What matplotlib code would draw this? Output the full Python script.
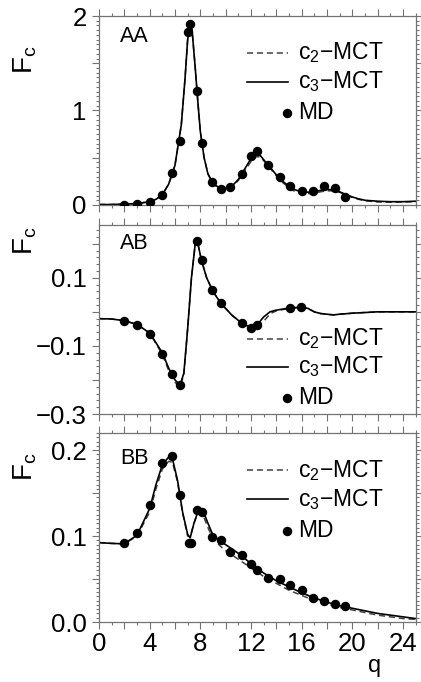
import numpy as np
import matplotlib
matplotlib.use('Agg')
import matplotlib.pyplot as plt
from matplotlib.ticker import MultipleLocator, FixedLocator, FixedFormatter

plt.rcParams['font.family'] = ['Liberation Sans', 'DejaVu Sans']
plt.rcParams['axes.unicode_minus'] = True

# ---- AA panel ----
aa_md_q = [2.0, 3.0, 4.0, 5.0, 5.77, 6.41, 7.01, 7.2, 7.73, 8.1, 8.9, 9.6, 10.36,
           11.3, 12.0, 12.5, 13.37, 14.27, 15.1, 16.0, 16.9, 17.75, 18.67, 19.4]
aa_md_f = [0.005, 0.014, 0.03, 0.106, 0.34, 0.674, 1.827, 1.915, 1.21, 0.653, 0.247,
           0.169, 0.187, 0.325, 0.52, 0.571, 0.423, 0.296, 0.204, 0.148, 0.148,
           0.197, 0.183, 0.081]
aa_q = [0, 1, 2, 3, 4, 4.5, 5, 5.5, 6, 6.5, 6.8, 7.0, 7.2, 7.35, 7.6, 7.8, 8.0, 8.3,
        8.6, 9.0, 9.5, 10, 10.5, 11, 11.5, 12, 12.4, 12.7, 13, 13.5, 14, 14.5, 15,
        15.5, 16, 16.5, 17, 17.5, 18, 18.5, 19, 19.5, 20, 20.5, 21, 22, 23, 24, 25]
aa_c3 = [0.005, 0.005, 0.01, 0.015, 0.035, 0.06, 0.11, 0.22, 0.42, 0.85, 1.35, 1.75,
         1.9, 1.85, 1.45, 1.1, 0.78, 0.5, 0.33, 0.23, 0.18, 0.175, 0.2, 0.27, 0.38,
         0.49, 0.54, 0.53, 0.48, 0.40, 0.32, 0.25, 0.2, 0.16, 0.14, 0.135, 0.14,
         0.155, 0.165, 0.16, 0.14, 0.11, 0.085, 0.065, 0.05, 0.04, 0.035, 0.035, 0.04]
aa_c2 = [0.005, 0.005, 0.01, 0.015, 0.035, 0.06, 0.11, 0.22, 0.42, 0.85, 1.35, 1.75,
         1.9, 1.85, 1.45, 1.1, 0.78, 0.5, 0.33, 0.22, 0.17, 0.17, 0.19, 0.26, 0.36,
         0.46, 0.51, 0.51, 0.47, 0.39, 0.31, 0.24, 0.18, 0.14, 0.125, 0.12, 0.125,
         0.14, 0.15, 0.15, 0.135, 0.11, 0.08, 0.06, 0.045, 0.032, 0.03, 0.032, 0.035]

# ---- AB panel ----
ab_md_q = [2.0, 3.0, 4.0, 5.0, 5.75, 6.41, 7.73, 8.1, 8.9, 9.6, 11.3, 12.0, 12.5,
           15.06, 15.98]
ab_md_f = [-0.028, -0.040, -0.064, -0.124, -0.183, -0.215, 0.208, 0.152, 0.063,
           0.026, -0.033, -0.046, -0.038, 0.011, 0.014]
ab_q = [0, 1, 2, 3, 4, 5, 5.5, 6, 6.4, 6.7, 7.0, 7.3, 7.6, 7.75, 8.1, 8.5, 9, 9.6,
        10, 10.5, 11, 11.5, 12, 12.5, 13, 13.5, 14, 15, 16, 16.5, 17, 17.5, 18.5,
        19, 20, 21, 22, 23, 24, 25]
ab_c3 = [-0.020, -0.021, -0.026, -0.037, -0.062, -0.12, -0.165, -0.2, -0.215, -0.18,
         -0.05, 0.1, 0.2, 0.21, 0.15, 0.1, 0.06, 0.026, 0.01, -0.01, -0.025, -0.038,
         -0.045, -0.038, -0.015, 0.0, 0.005, 0.011, 0.014, 0.01, 0.0, -0.005,
         -0.009, -0.007, -0.004, -0.002, 0.0, 0.0, 0.0, 0.0]
ab_c2 = [-0.020, -0.021, -0.026, -0.037, -0.062, -0.125, -0.172, -0.207, -0.22,
         -0.185, -0.05, 0.1, 0.2, 0.21, 0.15, 0.1, 0.06, 0.026, 0.01, -0.01, -0.025,
         -0.038, -0.045, -0.043, -0.028, -0.006, 0.003, 0.010, 0.013, 0.01, 0.0,
         -0.005, -0.009, -0.007, -0.004, -0.002, 0.0, 0.0, 0.0, 0.0]

# ---- BB panel ----
bb_md_q = [2.0, 3.0, 4.0, 5.0, 5.75, 6.41, 7.14, 7.28, 7.73, 8.1, 8.9, 9.6, 10.36,
           11.3, 12.0, 12.5, 13.37, 14.27, 15.1, 16.0, 16.9, 17.75, 18.67, 19.4]
bb_md_f = [0.0924, 0.104, 0.1366, 0.185, 0.1937, 0.148, 0.0916, 0.0916, 0.130,
           0.128, 0.099, 0.0955, 0.082, 0.0777, 0.068, 0.061, 0.0512, 0.0497,
           0.043, 0.0369, 0.028, 0.024, 0.0213, 0.019]
bb_q = [0, 1, 2, 3, 4, 4.5, 5, 5.5, 5.8, 6.2, 6.6, 7.0, 7.2, 7.5, 7.8, 8.2, 8.6,
        9.0, 9.6, 10, 11, 12, 13, 14, 15, 16, 17, 18, 19, 20, 21, 22, 23, 24, 25]
bb_c3 = [0.0924, 0.0915, 0.091, 0.101, 0.132, 0.16, 0.183, 0.192, 0.19, 0.165,
         0.128, 0.102, 0.098, 0.115, 0.128, 0.13, 0.115, 0.101, 0.094, 0.09, 0.08,
         0.068, 0.057, 0.048, 0.041, 0.034, 0.028, 0.023, 0.019, 0.016, 0.013,
         0.01, 0.008, 0.006, 0.004]
bb_c2 = [0.0924, 0.0915, 0.091, 0.100, 0.128, 0.155, 0.178, 0.187, 0.186, 0.163,
         0.127, 0.10, 0.099, 0.115, 0.127, 0.125, 0.11, 0.097, 0.088, 0.083, 0.073,
         0.063, 0.053, 0.045, 0.037, 0.031, 0.025, 0.021, 0.017, 0.014, 0.011,
         0.008, 0.006, 0.004, 0.003]

panels = [
    ('AA', aa_q, aa_c2, aa_c3, aa_md_q, aa_md_f),
    ('AB', ab_q, ab_c2, ab_c3, ab_md_q, ab_md_f),
    ('BB', bb_q, bb_c2, bb_c3, bb_md_q, bb_md_f),
]

fig = plt.figure(figsize=(4.21, 6.82), dpi=100)
left, width = 99 / 421, 316.6 / 421
tops = [16, 225, 433]
h = 189
frame = '0.45'

# y-axis settings per panel: limits, major, minor, labelled ticks, label texts
ylims = [(0, 2), (-0.3, 0.255), (0, 0.22)]
ymajor = [0.5, 0.1, 0.05]
yminor = [0.05, 0.02, 0.005]
ylabel_ticks = [[0, 1, 2], [-0.3, -0.1, 0.1], [0.0, 0.1, 0.2]]
ylabel_text = [['0', '1', '2'], ['\u22120.3', '\u22120.1', '0.1'], ['0.0', '0.1', '0.2']]
legend_y = [[0.804, 0.651, 0.487], [0.399, 0.25, 0.085], [0.803, 0.649, 0.484]]
tag_y = [0.89, 0.90, 0.867]
flabel_y = [60, 241, 467]

for i, (tag, q, c2, c3, mq, mf) in enumerate(panels):
    ax = fig.add_axes([left, 1 - (tops[i] + h) / 682, width, h / 682])
    ax.plot(q, c2, color='0.25', lw=1.1, dashes=(4, 2.5))
    ax.plot(q, c3, color='black', lw=1.2)
    ax.plot(mq, mf, 'o', color='black', ms=5.8, zorder=3)
    ax.set_xlim(0, 25)
    ax.set_ylim(*ylims[i])

    ax.xaxis.set_major_locator(MultipleLocator(2))
    ax.xaxis.set_minor_locator(MultipleLocator(1))
    ax.yaxis.set_major_locator(MultipleLocator(ymajor[i]))
    ax.yaxis.set_minor_locator(MultipleLocator(yminor[i]))
    ax.tick_params(which='both', direction='out', top=True, right=True,
                   color=frame, width=0.8)
    ax.tick_params(which='major', length=5)
    ax.tick_params(which='minor', length=2.5)
    ax.tick_params(axis='y', labelsize=18.5, pad=4)
    ax.tick_params(axis='x', labelsize=18.5, pad=2)
    for s in ax.spines.values():
        s.set_color(frame)
        s.set_linewidth(0.9)

    # only some of the major y ticks carry labels
    yt = ax.get_yticks()
    labs = []
    for v in yt:
        lab = ''
        for t, txt in zip(ylabel_ticks[i], ylabel_text[i]):
            if abs(v - t) < 1e-9:
                lab = txt
        labs.append(lab)
    ax.yaxis.set_major_locator(FixedLocator(yt))
    ax.yaxis.set_major_formatter(FixedFormatter(labs))

    if i < 2:
        ax.tick_params(axis='x', labelbottom=False)
    else:
        xt = np.arange(0, 26, 2)
        ax.xaxis.set_major_locator(FixedLocator(xt))
        ax.xaxis.set_major_formatter(FixedFormatter(
            [str(int(v)) if v % 4 == 0 else '' for v in xt]))

    ax.text(0.066, tag_y[i], tag, transform=ax.transAxes, fontsize=15.5,
            ha='left', va='center')

    # legend drawn by hand
    ly = legend_y[i]
    ax.plot([0.467, 0.597], [ly[0], ly[0]], transform=ax.transAxes,
            color='0.25', lw=1.1, dashes=(4, 2.5))
    ax.plot([0.467, 0.597], [ly[1], ly[1]], transform=ax.transAxes,
            color='black', lw=1.2)
    ax.plot([0.594], [ly[2]], 'o', transform=ax.transAxes, color='black', ms=5.8)
    for y, txt in zip(ly, ['c$_\\mathregular{2}$\u2212MCT',
                           'c$_\\mathregular{3}$\u2212MCT', 'MD']):
        ax.text(0.628, y, txt, transform=ax.transAxes, fontsize=16.5,
                ha='left', va='center')

    fig.text(25 / 421, 1 - flabel_y[i] / 682, 'F$_\\mathregular{c}$',
             rotation=90, fontsize=20, ha='center', va='center')

fig.text(375 / 421, 1 - 666 / 682, 'q', fontsize=17, ha='center', va='center')

fig.savefig('out.png', dpi=100)
